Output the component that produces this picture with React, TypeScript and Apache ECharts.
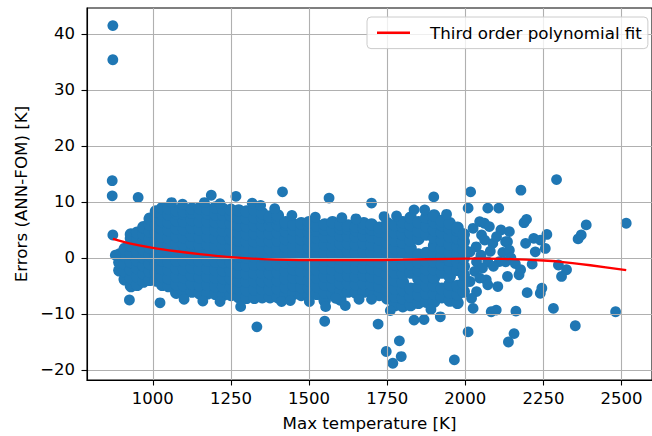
import React, { useEffect, useRef } from "react";
import * as echarts from "echarts";

// ---- data ----
const X_TICKS = [1000, 1250, 1500, 1750, 2000, 2250, 2500];
const Y_TICKS = [-20, -10, 0, 10, 20, 30, 40];

// dense core of the cloud: one column of errors per max temperature
const blobX = [
  893, 910, 930, 950, 970, 990, 1010, 1030, 1050, 1075, 1100, 1125, 1150, 1175, 1200, 1225,
  1250, 1275, 1300, 1325, 1350, 1375, 1400, 1425, 1450, 1475, 1500, 1525, 1550, 1575, 1600,
  1625, 1650, 1675, 1700, 1725, 1750, 1775, 1800, 1825, 1850, 1875, 1900, 1925, 1950, 1975, 1995,
];
const blobY = [
  [-2.2, -0.8, 0.6],
  [-3.8, -2.4, -1.0, 0.4, 1.6],
  [-5.0, -3.6, -2.1, -0.7, 0.8, 2.2, 3.5, 4.2],
  [-4.8, -3.3, -1.8, -0.4, 1.1, 2.5, 3.8, 4.5],
  [-4.2, -2.8, -1.3, 0.1, 1.5, 2.9, 4.3, 5.5],
  [-3.9, -2.4, -1.0, 0.5, 1.9, 3.3, 4.7, 6.0, 7.0],
  [-4.0, -2.6, -1.1, 0.3, 1.7, 3.1, 4.5, 5.9, 7.3, 8.3],
  [-4.8, -3.3, -1.9, -0.4, 1.0, 2.4, 3.8, 5.2, 6.6, 7.9, 8.9],
  [-5.0, -3.6, -2.1, -0.7, 0.8, 2.2, 3.6, 5.0, 6.4, 7.8, 8.8],
  [-6.2, -4.7, -3.3, -1.8, -0.4, 1.0, 2.5, 3.9, 5.3, 6.7, 8.0, 8.5],
  [-6.3, -4.9, -3.4, -2.0, -0.5, 0.9, 2.3, 3.7, 5.1, 6.5, 7.9, 8.3],
  [-6.0, -4.6, -3.1, -1.7, -0.2, 1.2, 2.6, 4.0, 5.4, 6.8, 8.1, 8.8],
  [-6.3, -4.9, -3.4, -2.0, -0.5, 0.9, 2.3, 3.7, 5.1, 6.5, 7.9, 8.9],
  [-6.3, -4.8, -3.3, -1.9, -0.4, 1.0, 2.4, 3.8, 5.2, 6.6, 8.0, 8.7],
  [-6.4, -5.0, -3.5, -2.1, -0.6, 0.8, 2.2, 3.6, 5.0, 6.4, 7.8, 9.0],
  [-6.6, -5.1, -3.6, -2.2, -0.7, 0.7, 2.1, 3.5, 4.9, 6.3, 7.7, 8.7],
  [-6.6, -5.2, -3.7, -2.3, -0.8, 0.6, 2.0, 3.4, 4.8, 6.2, 7.6, 8.6],
  [-7.0, -5.5, -4.1, -2.6, -1.2, 0.3, 1.7, 3.1, 4.5, 5.9, 7.3, 8.5],
  [-7.1, -5.7, -4.2, -2.8, -1.3, 0.1, 1.5, 2.9, 4.3, 5.7, 7.1, 8.3],
  [-7.1, -5.6, -4.1, -2.7, -1.2, 0.2, 1.6, 3.0, 4.4, 5.8, 7.2, 8.6],
  [-7.0, -5.5, -4.1, -2.6, -1.2, 0.3, 1.7, 3.1, 4.5, 5.9, 7.2, 8.0],
  [-7.0, -5.6, -4.1, -2.7, -1.2, 0.2, 1.6, 3.0, 4.4, 5.8, 7.0, 7.4],
  [-7.0, -5.5, -4.0, -2.6, -1.1, 0.3, 1.7, 3.1, 4.5, 5.9, 7.0, 7.6],
  [-6.6, -5.2, -3.7, -2.3, -0.8, 0.6, 2.0, 3.4, 4.8, 6.0, 6.4],
  [-6.4, -4.9, -3.5, -2.0, -0.6, 0.8, 2.2, 3.6, 5.0, 6.0],
  [-6.6, -5.2, -3.7, -2.3, -0.8, 0.6, 2.0, 3.4, 4.8, 6.2],
  [-6.9, -5.4, -4.0, -2.5, -1.1, 0.4, 1.8, 3.2, 4.6, 5.8, 6.4],
  [-6.4, -5.0, -3.5, -2.1, -0.6, 0.8, 2.2, 3.6, 4.9, 5.8],
  [-7.6, -6.2, -4.7, -3.3, -1.8, -0.4, 1.0, 2.4, 3.8, 5.1, 6.0],
  [-6.4, -5.0, -3.5, -2.1, -0.6, 0.8, 2.2, 3.6, 5.0, 6.4],
  [-7.4, -6.0, -4.5, -3.1, -1.6, -0.2, 1.2, 2.6, 4.0, 5.3, 6.0],
  [-6.0, -4.6, -3.1, -1.7, -0.2, 1.2, 2.6, 4.0, 5.2, 5.8],
  [-6.2, -4.7, -3.3, -1.8, -0.4, 1.0, 2.4, 3.8, 5.0, 5.6],
  [-6.0, -4.6, -3.1, -1.7, -0.2, 1.2, 2.6, 4.0, 5.3, 6.2],
  [-6.2, -4.7, -3.3, -1.8, -0.4, 1.0, 2.4, 3.8, 5.1, 6.0],
  [-6.6, -5.1, -3.7, -2.2, -0.8, 0.6, 2.0, 3.4, 4.7, 5.4],
  [-7.2, -5.8, -4.3, -2.9, -1.4, 0.0, 1.4, 2.8, 4.2, 5.4, 6.2],
  [-8.4, -6.9, -5.5, -4.0, -2.6, -1.1, 0.3, 1.7, 3.1, 4.5, 5.9],
  [-8.6, -7.2, -5.7, -4.3, -2.8, -1.4, 0.0, 1.4, 2.8, 4.2, 5.6, 6.4],
  [-8.4, -6.9, -5.5, -2.6, -1.1, 0.3, 1.7, 3.1, 4.5, 5.9, 7.2],
  [-8.0, -6.6, -5.1, -3.7, -2.2, -0.8, 0.6, 3.4, 4.8, 6.4],
  [-7.8, -6.3, -4.9, -3.4, -2.0, -0.5, 0.9, 4.2, 5.7, 7.2],
  [-7.8, -6.4, -4.9, -3.5, -2.0, -0.6, 0.8, 2.2, 3.6, 5.0, 6.4, 7.6],
  [-7.0, -5.5, -2.6, -1.2, 0.3, 1.7, 3.1, 4.5, 5.9, 6.6],
  [-7.6, -6.2, -4.7, -3.3, -1.8, -0.4, 1.0, 2.4, 3.8, 5.2, 6.2],
  [-8.0, -6.5, -5.0, -2.1, -0.7, 0.7, 2.1, 3.5, 4.9, 5.4],
  [-6.0, -4.5, -3.0, -1.5, 0.0, 1.5, 2.9, 4.2],
];

// isolated points around and to the right of the core
const scatterPoints = [
  [872, 41.5], [872, 35.4], [870, 13.8], [870, 11.1], [953, 10.8], [872, 4.1], [880, 0.5],
  [925, -7.5], [1023, -8.0],
  [1060, 9.9], [1095, 9.6], [1165, 9.9], [1187, 11.2], [1215, 9.7], [1266, 11.0], [1318, 9.8],
  [1345, 9.4], [1390, 8.8], [1415, 11.8], [1445, 7.6], [1520, 7.3], [1564, 10.7], [1605, 7.2],
  [1650, 7.0], [1700, 9.8], [1740, 7.4], [1780, 7.5], [1836, 8.6], [1870, 8.6], [1899, 10.9],
  [1940, 7.8],
  [1100, -7.4], [1160, -7.7], [1215, -7.8], [1281, -8.7], [1333, -12.3], [1412, -7.8],
  [1440, -7.6], [1501, -7.8], [1550, -11.3], [1553, -8.7], [1585, -7.2], [1616, -8.5],
  [1660, -7.4], [1700, -7.4], [1721, -11.8], [1760, -9.4], [1789, -14.8], [1747, -16.7],
  [1795, -17.6], [1768, -18.8], [1836, -11.1], [1868, -11.0], [1890, -9.2], [1920, -10.5],
  [1965, -18.2],
  [2009, 8.9], [2017, 11.8], [2025, 5.3], [2046, 6.5], [2061, 6.2], [2072, 8.9], [2077, 5.6],
  [2107, 8.9], [2114, 5.0], [2141, 4.7], [2178, 12.1], [2188, 6.3], [2196, 6.9], [2292, 14.0],
  [2035, 2.0], [2052, 4.1], [2062, 3.2], [2088, 2.6], [2129, 2.9], [2135, 2.9], [2100, 3.8],
  [2193, 2.6], [2219, 3.5], [2240, 3.2], [2261, 4.2], [2256, 1.7], [2224, 1.1], [2214, -1.1],
  [2015, 1.1], [2050, 0.5], [2080, 1.2], [2120, 1.0], [2141, 1.4], [2146, 0.0], [2109, -0.65],
  [2129, -0.7], [2072, -0.7], [2036, -0.7], [2090, -1.5], [2055, -1.8], [2160, -1.0],
  [2030, -2.4], [2046, -3.6], [2067, -3.9], [2015, -4.2], [2135, -3.3], [2172, -3.0],
  [2177, -2.1], [2104, -5.1], [2072, -4.8], [2036, -6.0], [2020, -7.2], [2025, -9.0],
  [2198, -6.2], [2240, -6.3], [2245, -5.4], [2083, -9.6], [2099, -9.3], [2162, -9.5],
  [2009, -13.2], [2156, -13.5], [2138, -15.0], [2282, -9.0], [2352, -12.1], [2481, -9.6],
  [2298, -1.25], [2324, -2.1], [2308, -3.3], [2361, 3.4], [2371, 4.1], [2387, 5.9],
  [2515, 6.2],
];

// third order polynomial fit (red curve)
const fitX = [872, 925, 1000, 1075, 1150, 1250, 1350, 1500, 1650, 1800, 1950, 2050, 2150, 2250, 2300, 2400, 2515];
const fitY = [3.4, 2.6, 1.8, 1.2, 0.7, 0.15, -0.2, -0.4, -0.4, -0.3, -0.15, -0.1, -0.2, -0.45, -0.65, -1.3, -2.15];

const FONT = "DejaVu Sans";
const BLUE = "#1f77b4";

export default function App() {
  const ref = useRef<HTMLDivElement>(null);

  useEffect(() => {
    if (!ref.current) return;
    const chart = echarts.init(ref.current, undefined, { renderer: "svg" });

    const core: number[][] = [];
    blobX.forEach((x, i) => blobY[i].forEach((y) => core.push([x, y])));
    const fit = fitX.map((x, i) => [x, fitY[i]]);

    const minus = (v: number) => String(v).replace("-", "\u2212");

    chart.setOption({
      animation: false,
      grid: {
        left: 87,
        top: 8,
        width: 575,
        height: 372,
        show: true,
        borderColor: "#000",
        borderWidth: 1.1,
        backgroundColor: "rgba(0,0,0,0)",
      },
      legend: {
        show: true,
        left: 367,
        top: 17,
        padding: [6, 6, 6, 10],
        backgroundColor: "rgba(255,255,255,0.8)",
        borderColor: "#cccccc",
        borderWidth: 1,
        borderRadius: 4,
        itemWidth: 33,
        itemHeight: 2.5,
        data: [{ name: "Third order polynomial fit", icon: "rect", itemStyle: { color: "#ff0000" } }],
        textStyle: { fontFamily: FONT, fontSize: 16.7, color: "#000", lineHeight: 19.6, padding: [0, 0, 0, 15] },
      },
      xAxis: {
        type: "value",
        min: 789.3,
        max: 2597.5,
        z: 3,
        name: "Max temperature [K]",
        nameLocation: "middle",
        nameGap: 34,
        nameTextStyle: { fontFamily: FONT, fontSize: 16.7, color: "#000" },
        axisLine: { show: true, onZero: false, lineStyle: { color: "#000", width: 1.1 } },
        axisTick: { show: true, length: 5.5, customValues: X_TICKS, lineStyle: { color: "#000", width: 1.1 } },
        axisLabel: {
          customValues: X_TICKS,
          formatter: (v: number) => String(v),
          fontFamily: FONT,
          fontSize: 16.5,
          color: "#000",
          margin: 10,
        },
        splitLine: { show: true, lineStyle: { color: "#b0b0b0", width: 1.1 } },
      },
      yAxis: {
        type: "value",
        min: -21.79,
        max: 44.64,
        z: 3,
        name: "Errors (ANN-FOM) [K]",
        nameLocation: "middle",
        nameGap: 56,
        nameTextStyle: { fontFamily: FONT, fontSize: 16.7, color: "#000" },
        axisLine: { show: true, onZero: false, lineStyle: { color: "#000", width: 1.1 } },
        axisTick: { show: true, length: 5.5, customValues: Y_TICKS, lineStyle: { color: "#000", width: 1.1 } },
        axisLabel: {
          customValues: Y_TICKS,
          formatter: minus,
          fontFamily: FONT,
          fontSize: 16.5,
          color: "#000",
          margin: 12,
        },
        splitLine: { show: true, lineStyle: { color: "#b0b0b0", width: 1.1 } },
      },
      series: [
        {
          type: "scatter",
          name: "Errors core",
          data: core,
          symbolSize: 12.5,
          itemStyle: { color: BLUE, opacity: 1 },
          z: 1,
          silent: true,
        },
        {
          type: "scatter",
          name: "Errors",
          data: scatterPoints,
          symbolSize: 10.8,
          itemStyle: { color: BLUE, opacity: 1 },
          z: 1,
          silent: true,
        },
        {
          type: "line",
          name: "Third order polynomial fit",
          data: fit,
          showSymbol: false,
          symbol: "none",
          smooth: 0.3,
          lineStyle: { color: "#ff0000", width: 2.3 },
          itemStyle: { color: "#ff0000" },
          z: 4,
          silent: true,
        },
      ],
    });

    return () => chart.dispose();
  }, []);

  return (
    <div
      ref={ref}
      style={{ position: "fixed", left: 0, top: 0, width: 652, height: 436, background: "#fff" }}
    />
  );
}
